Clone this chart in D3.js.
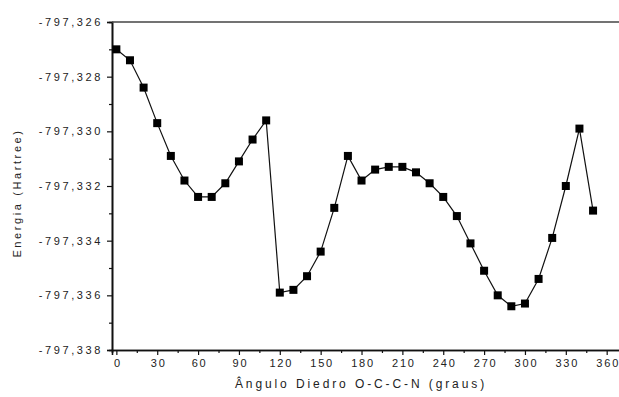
<!DOCTYPE html>
<html>
<head>
<meta charset="utf-8">
<script src="https://cdn.jsdelivr.net/npm/d3@7"></script>
<style>
  body { margin: 0; background: #fff; }
  svg { display: block; }
  text { font-family: "Liberation Sans", Arial, sans-serif; fill: #222; }
</style>
</head>
<body>
<svg></svg>
<script>
// angulo diedro (graus) e energia (Hartree)
let angles = [0, 10, 20, 30, 40, 50, 60, 70, 80, 90, 100, 110, 120, 130, 140, 150, 160, 170,
              180, 190, 200, 210, 220, 230, 240, 250, 260, 270, 280, 290, 300, 310, 320, 330, 340, 350];
let energies = [-797.3270, -797.3274, -797.3284, -797.3297, -797.3309, -797.3318, -797.3324, -797.3324,
                -797.3319, -797.3311, -797.3303, -797.3296, -797.3359, -797.3358, -797.3353, -797.3344,
                -797.3328, -797.3309, -797.3318, -797.3314, -797.3313, -797.3313, -797.3315, -797.3319,
                -797.3324, -797.3331, -797.3341, -797.3351, -797.3360, -797.3364, -797.3363, -797.3354,
                -797.3339, -797.3320, -797.3299, -797.3329];
let xTicks = [0, 30, 60, 90, 120, 150, 180, 210, 240, 270, 300, 330, 360];
let yTicks = [-797.326, -797.328, -797.330, -797.332, -797.334, -797.336, -797.338];

let svgWidth = 619, svgHeight = 397;
let padLeft = 112, padTop = 22, axisBottom = 350;

let svg = d3.select('svg').attr('width', svgWidth).attr('height', svgHeight);

// a área do gráfico continua além da borda direita
let x = d3.scaleLinear().domain([-3.2, 380]).range([padLeft, padLeft + 383.2 * 1.362]);
let y = d3.scaleLinear().domain([-797.338, -797.326]).range([axisBottom, padTop]);

// virgula decimal e hifen normal como no original
let fmt = d => d3.format('.3f')(d).replace('.', ',').replace('\u2212', '-');

// eixo x
let xAxis = svg.append('g').attr('transform', `translate(0,${axisBottom})`)
    .call(d3.axisBottom(x).tickValues(xTicks).tickSize(5).tickPadding(4).tickFormat(d3.format('d')));
let xMinor = svg.append('g').attr('transform', `translate(0,${axisBottom})`)
    .call(d3.axisBottom(x).tickValues(xTicks.slice(0, -1).map(d => d + 15)).tickSize(3).tickFormat(''));

// eixo y
let yAxis = svg.append('g').attr('transform', `translate(${padLeft},0)`)
    .call(d3.axisLeft(y).tickValues(yTicks).tickSize(5).tickPadding(6).tickFormat(fmt));
let yMinor = svg.append('g').attr('transform', `translate(${padLeft},0)`)
    .call(d3.axisLeft(y).tickValues(yTicks.slice(1).map(d => d + 0.001)).tickSize(3).tickFormat(''));

[xAxis, xMinor, yAxis, yMinor].forEach(a => {
  a.select('.domain').attr('stroke', '#111').attr('stroke-width', 1.6);
  a.selectAll('.tick line').attr('stroke', '#111').attr('stroke-width', 1.2);
});
[xAxis, yAxis].forEach(a => a.selectAll('.tick text')
  .attr('font-size', 11).attr('fill', '#333').style('letter-spacing', '1.8px')
  .attr('font-family', '"Liberation Sans", Arial, sans-serif'));
yAxis.selectAll('.tick text').attr('dx', 2).style('letter-spacing', '2.6px');
xAxis.selectAll('.tick text').attr('dx', 1);

// linha superior
svg.append('line')
    .attr('x1', padLeft).attr('x2', svgWidth)
    .attr('y1', y(-797.326)).attr('y2', y(-797.326))
    .attr('stroke', '#444').attr('stroke-width', 1.4);

// curva
let data = angles.map((a, i) => ({ a: a, e: energies[i] }));
svg.append('path').datum(data)
    .attr('fill', 'none').attr('stroke', '#111').attr('stroke-width', 1.2)
    .attr('d', d3.line().x(d => x(d.a)).y(d => y(d.e)));

let s = 8;
svg.selectAll('rect.pt').data(data).enter().append('rect')
    .attr('class', 'pt')
    .attr('x', d => x(d.a) - s / 2).attr('y', d => y(d.e) - s / 2)
    .attr('width', s).attr('height', s)
    .attr('fill', '#000');

// títulos dos eixos
svg.append('text')
    .attr('x', 361).attr('y', 388)
    .attr('text-anchor', 'middle').attr('font-size', 12).attr('fill', '#333')
    .style('letter-spacing', '2.9px')
    .text('Ângulo Diedro O-C-C-N (graus)');

svg.append('text')
    .attr('transform', 'translate(21,193) rotate(-90)')
    .attr('text-anchor', 'middle').attr('font-size', 11).attr('fill', '#333')
    .style('letter-spacing', '2.6px')
    .text('Energia (Hartree)');
</script>
</body>
</html>
